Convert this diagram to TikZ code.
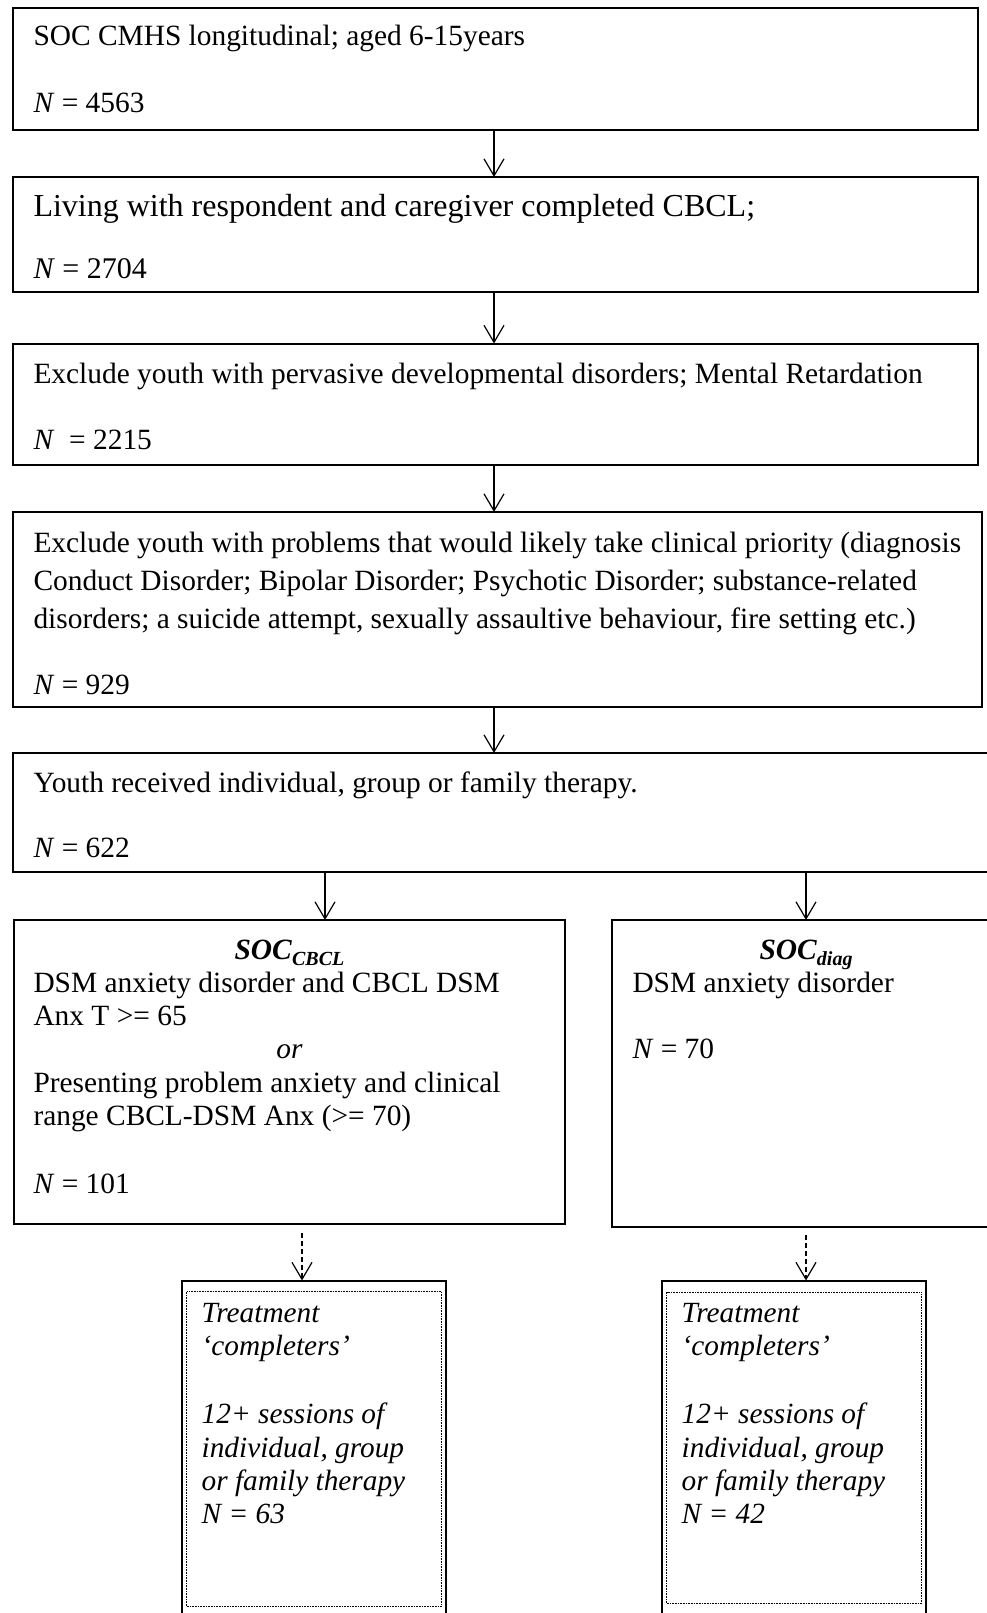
\documentclass[tikz,border=0pt]{standalone}
\usepackage{fontspec}
\setmainfont{Liberation Serif}
\usetikzlibrary{arrows.meta,calc}
\begin{document}
\begin{tikzpicture}[x=1pt,y=-1pt,
  box/.style={draw, line width=2pt, inner sep=0pt, outer sep=0pt, anchor=north west},
  inbox/.style={draw, line width=0.7pt, dash pattern=on 0.8pt off 0.8pt, inner sep=0pt, outer sep=0pt, anchor=north west},
  txt/.style={inner sep=0pt, outer sep=0pt, anchor=base west, font=\fontsize{29.4}{34}\selectfont},
  bigtxt/.style={txt, font=\fontsize{32}{36}\selectfont},
  ctxt/.style={txt, anchor=base},
  itxt/.style={txt, font=\fontsize{29.3}{34}\selectfont\itshape},
  arr/.style={line width=1.2pt, -{Straight Barb[length=17pt,width=20pt]}},
  darr/.style={arr, dash pattern=on 5pt off 3pt}]
\useasboundingbox (0,0) rectangle (987,1613);

% boxes
\node[box, minimum width=964.7pt, minimum height=122pt] (B1) at (13.3,8.5) {};
\node[box, minimum width=964.7pt, minimum height=115pt] (B2) at (13.3,177) {};
\node[box, minimum width=964.7pt, minimum height=121.5pt] (B3) at (13.3,343.5) {};
\node[box, minimum width=968.7pt, minimum height=195pt] (B4) at (13.3,512) {};
\node[box, minimum width=990pt, minimum height=119pt] (B5) at (13.3,753) {};
\node[box, minimum width=551pt, minimum height=304pt] (B6) at (14,920) {};
\node[box, minimum width=390pt, minimum height=307pt] (B7) at (612,920) {};
\node[box, minimum width=264.5pt, minimum height=345pt] (B8) at (181.5,1280.5) {};
\node[inbox, minimum width=254.8pt, minimum height=314.3pt] (B8i) at (186.7,1291.7) {};
\node[box, minimum width=264.5pt, minimum height=345pt] (B9) at (661.5,1280.5) {};
\node[inbox, minimum width=255pt, minimum height=311pt] (B9i) at (666.7,1292) {};

% texts
\node[txt] (t1a) at (33.5,46) {SOC CMHS longitudinal; aged 6-15years};
\node[txt] (t1b) at (33.5,113) {\textit{N} = 4563};
\node[bigtxt] (t2a) at (33.5,217) {Living with respondent and caregiver completed CBCL;};
\node[txt, font=\fontsize{30}{34}\selectfont] (t2b) at (33.5,278) {\textit{N} = 2704};
\node[txt] (t3a) at (33.5,383) {Exclude youth with pervasive developmental disorders; Mental Retardation};
\node[txt] (t3b) at (33.5,449) {\textit{N}\ \ = 2215};
\node[txt] (t4a) at (33.5,552) {Exclude youth with problems that would likely take clinical priority (diagnosis};
\node[txt] (t4b) at (33.5,590) {Conduct Disorder; Bipolar Disorder; Psychotic Disorder; substance-related};
\node[txt] (t4c) at (33.5,628) {disorders; a suicide attempt, sexually assaultive behaviour, fire setting etc.)};
\node[txt] (t4d) at (33.5,694) {\textit{N} = 929};
\node[txt] (t5a) at (33.5,792) {Youth received individual, group or family therapy.};
\node[txt] (t5b) at (33.5,857) {\textit{N} = 622};

\node[ctxt] (t6a) at (289.5,959) {\textbf{\textit{SOC}}\raisebox{-0.22em}{\fontsize{20}{20}\selectfont\bfseries\itshape CBCL}};
\node[txt] (t6b) at (33.5,992) {DSM anxiety disorder and CBCL DSM};
\node[txt] (t6c) at (33.5,1025) {Anx T >= 65};
\node[ctxt] (t6d) at (289.5,1058) {\textit{or}};
\node[txt] (t6e) at (33.5,1092) {Presenting problem anxiety and clinical};
\node[txt] (t6f) at (33.5,1125) {range CBCL-DSM Anx (>= 70)};
\node[txt] (t6g) at (33.5,1193) {\textit{N} = 101};

\node[ctxt] (t7a) at (806,959) {\textbf{\textit{SOC}}\raisebox{-0.22em}{\fontsize{20}{20}\selectfont\bfseries\itshape diag}};
\node[txt] (t7b) at (632.5,992) {DSM anxiety disorder};
\node[txt] (t7c) at (632.5,1058) {\textit{N} = 70};

\node[itxt] (t8a) at (201.7,1322) {Treatment};
\node[itxt] (t8b) at (201.7,1355) {‘completers’};
\node[itxt] (t8c) at (201.7,1423) {12+ sessions of};
\node[itxt] (t8d) at (201.7,1457) {individual, group};
\node[itxt] (t8e) at (201.7,1490) {or family therapy};
\node[itxt] (t8f) at (201.7,1523) {N = 63};

\node[itxt] (t9a) at (681.7,1322) {Treatment};
\node[itxt] (t9b) at (681.7,1355) {‘completers’};
\node[itxt] (t9c) at (681.7,1423) {12+ sessions of};
\node[itxt] (t9d) at (681.7,1457) {individual, group};
\node[itxt] (t9e) at (681.7,1490) {or family therapy};
\node[itxt] (t9f) at (681.7,1523) {N = 42};

% connector columns
\coordinate (ax) at (494,0);
\coordinate (al) at (325,0);
\coordinate (ar) at (806,0);
\coordinate (dl) at (302,0);
\coordinate (dr) at (806,0);

\draw[arr] (ax |- B1.south) -- (ax |- B2.north);
\draw[arr] (ax |- B2.south) -- (ax |- B3.north);
\draw[arr] (ax |- B3.south) -- (ax |- B4.north);
\draw[arr] (ax |- B4.south) -- (ax |- B5.north);
\draw[arr] (al |- B5.south) -- (al |- B6.north);
\draw[arr] (ar |- B5.south) -- (ar |- B7.north);
\draw[darr] ($(dl |- B6.south)+(0,9)$) -- (dl |- B8.north);
\draw[darr] ($(dr |- B7.south)+(0,8)$) -- (dr |- B9.north);
\end{tikzpicture}
\end{document}
